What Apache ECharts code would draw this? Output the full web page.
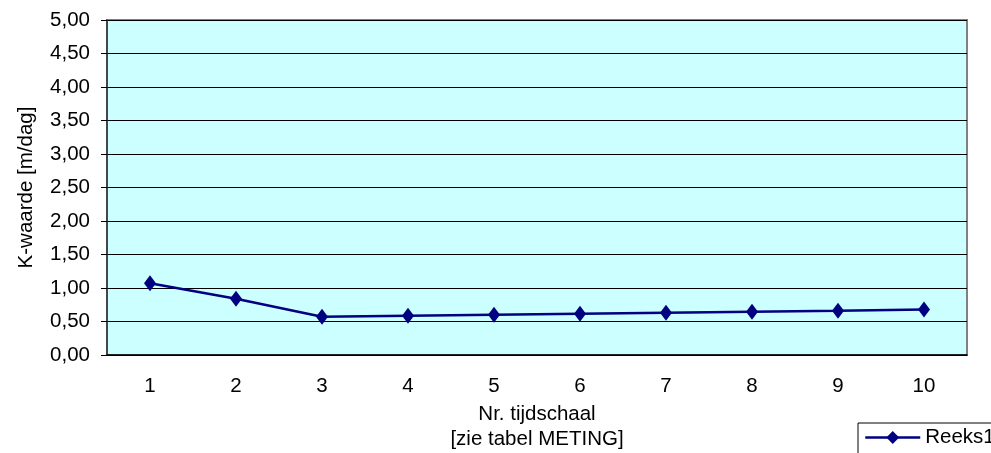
<!DOCTYPE html>
<html>
<head>
<meta charset="utf-8">
<script src="https://cdn.jsdelivr.net/npm/echarts@6/dist/echarts.min.js"></script>
<style>html,body{margin:0;padding:0;background:#fff}#c{width:991px;height:453px}</style>
</head>
<body>
<div id="c"></div>
<script>
const categories = ['1','2','3','4','5','6','7','8','9','10'];
const reeks1 = [1.07, 0.84, 0.57, 0.585, 0.60, 0.615, 0.63, 0.645, 0.66, 0.68];
const seriesName = 'Reeks1';
const xTitle = 'Nr. tijdschaal\n[zie tabel METING]';
const yTitle = 'K-waarde [m/dag]';

const FONT = 'Liberation Sans, Arial, sans-serif';
const FS = 20.5;
const chart = echarts.init(document.getElementById('c'));
chart.setOption({
  animation: false,
  textStyle: {fontFamily: FONT},
  grid: {left: 107, right: 24, top: 20, bottom: 98, containLabel: false, outerBoundsMode: 'none',
    show: true, backgroundColor: '#CCFFFF', borderColor: '#808080', borderWidth: 2},
  legend: {
    data: [seriesName], left: 858, top: 423, orient: 'horizontal',
    borderColor: '#000', borderWidth: 1, padding: [4, 6, 10, 6],
    itemWidth: 55, itemHeight: 16, itemGap: 4,
    lineStyle: {width: 2.5},
    textStyle: {fontFamily: FONT, fontSize: FS, color: '#000'}
  },
  xAxis: {
    type: 'category', data: categories, boundaryGap: true,
    name: xTitle, nameLocation: 'middle', nameGap: 44,
    nameTextStyle: {fontFamily: FONT, fontSize: FS, color: '#000', lineHeight: 25},
    axisLine: {lineStyle: {color: '#000', width: 1.5}},
    axisTick: {show: false},
    axisLabel: {fontFamily: FONT, fontSize: FS, color: '#000', margin: 21}
  },
  yAxis: {
    type: 'value', min: 0, max: 5, interval: 0.5,
    name: yTitle, nameLocation: 'middle', nameGap: 70, nameRotate: 90,
    nameTextStyle: {fontFamily: FONT, fontSize: FS, color: '#000'},
    axisLine: {show: true, lineStyle: {color: '#333', width: 1.5}},
    axisTick: {show: true, length: 6, inside: false, lineStyle: {color: '#000'}},
    axisLabel: {fontFamily: FONT, fontSize: FS, color: '#000', margin: 17,
      formatter: v => v.toFixed(2).replace('.', ',')},
    splitLine: {show: true, lineStyle: {color: '#000', width: 1}}
  },
  series: [{
    name: seriesName, type: 'line', data: reeks1,
    symbol: 'diamond', symbolSize: [12, 16],
    lineStyle: {color: '#000080', width: 2.5},
    itemStyle: {color: '#000080'}
  }]
});
</script>
</body>
</html>
